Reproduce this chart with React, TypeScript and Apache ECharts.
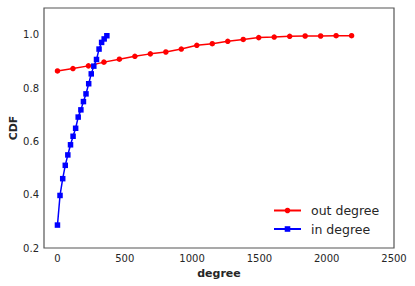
import React, { useEffect, useRef } from "react";
import * as echarts from "echarts";

const outDegreeX = [0, 115, 230, 345, 460, 575, 690, 805, 920, 1035, 1150, 1265, 1380, 1495, 1610, 1725, 1840, 1955, 2070, 2185];
const outDegreeCDF = [0.864, 0.873, 0.883, 0.897, 0.908, 0.919, 0.928, 0.935, 0.946, 0.96, 0.966, 0.975, 0.982, 0.989, 0.991, 0.994, 0.995, 0.995, 0.996, 0.996];
const inDegreeX = [0, 19, 39, 58, 77, 97, 116, 135, 154, 174, 193, 212, 232, 251, 270, 290, 309, 328, 347, 367];
const inDegreeCDF = [0.286, 0.397, 0.46, 0.51, 0.549, 0.587, 0.619, 0.649, 0.691, 0.718, 0.749, 0.778, 0.816, 0.853, 0.882, 0.907, 0.946, 0.971, 0.984, 0.996];
const xTicks = [0, 500, 1000, 1500, 2000, 2500];
const yTicks = [0.2, 0.4, 0.6, 0.8, 1.0];

const FONT = "DejaVu Sans";

export default function App() {
  const ref = useRef<HTMLDivElement>(null);
  useEffect(() => {
    if (!ref.current) return;
    const chart = echarts.init(ref.current, undefined, { renderer: "svg" });
    chart.setOption({
      animation: false,
      backgroundColor: "#ffffff",
      textStyle: { fontFamily: FONT },
      grid: {
        left: 44,
        right: 21,
        top: 8,
        bottom: 38,
        show: true,
        borderColor: "#555555",
        borderWidth: 1.2,
        containLabel: false,
        outerBoundsMode: "none",
      },
      legend: {
        orient: "vertical",
        left: 273,
        top: 204,
        padding: 0,
        itemWidth: 27,
        itemHeight: 7,
        itemGap: 5.5,
        textStyle: { fontFamily: FONT, fontSize: 12.5, color: "#262626", padding: [0, 0, 0, 5] },
        data: ["out degree", "in degree"],
      },
      xAxis: {
        type: "value",
        min: -100,
        max: 2500,
        name: "degree",
        nameLocation: "middle",
        nameGap: 20,
        nameMoveOverlap: false,
        nameTextStyle: { fontFamily: FONT, fontSize: 11, fontWeight: "bold", color: "#262626" },
        axisLine: { show: false },
        axisTick: { show: false },
        splitLine: { show: false },
        axisLabel: {
          customValues: xTicks,
          margin: 5,
          fontFamily: FONT,
          fontSize: 10,
          color: "#262626",
          formatter: (v: number) => String(v),
        },
      },
      yAxis: {
        type: "value",
        min: 0.2,
        max: 1.1,
        name: "CDF",
        nameLocation: "middle",
        nameGap: 25,
        nameMoveOverlap: false,
        nameTextStyle: { fontFamily: FONT, fontSize: 11, fontWeight: "bold", color: "#262626" },
        axisLine: { show: false },
        axisTick: { show: false },
        splitLine: { show: false },
        axisLabel: {
          customValues: yTicks,
          margin: 5,
          fontFamily: FONT,
          fontSize: 10,
          color: "#262626",
          formatter: (v: number) => v.toFixed(1),
        },
      },
      series: [
        {
          name: "out degree",
          type: "line",
          data: outDegreeX.map((x, i) => [x, outDegreeCDF[i]]),
          symbol: "circle",
          symbolSize: 5.5,
          lineStyle: { color: "#ff0000", width: 1.5 },
          itemStyle: { color: "#ff0000" },
          z: 2,
        },
        {
          name: "in degree",
          type: "line",
          data: inDegreeX.map((x, i) => [x, inDegreeCDF[i]]),
          symbol: "rect",
          symbolSize: 5.5,
          lineStyle: { color: "#0000ff", width: 1.5 },
          itemStyle: { color: "#0000ff" },
          z: 3,
        },
      ],
    });
    return () => chart.dispose();
  }, []);
  return <div ref={ref} style={{ width: 415, height: 286, position: "absolute", left: 0, top: 0 }} />;
}
